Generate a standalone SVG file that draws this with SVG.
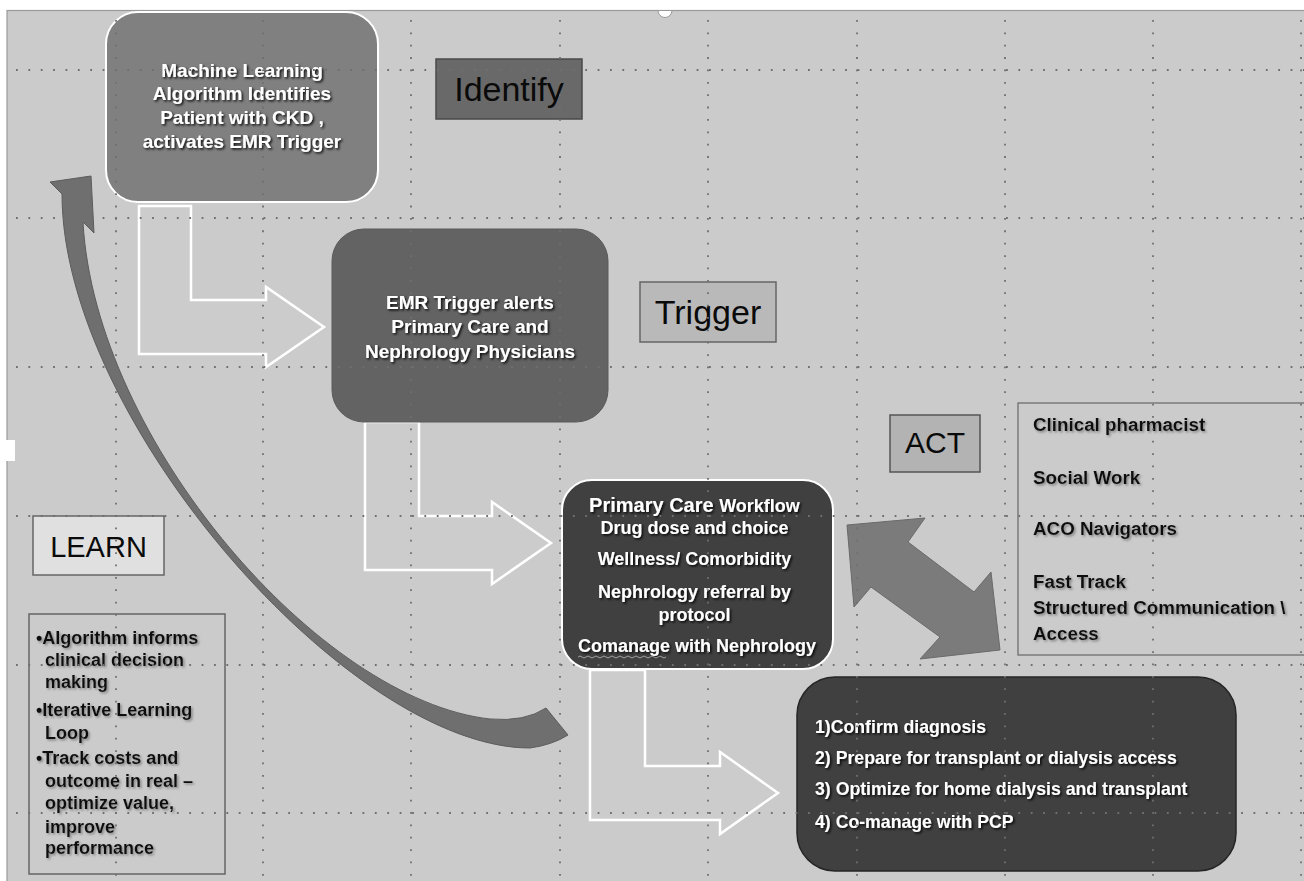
<svg xmlns="http://www.w3.org/2000/svg" width="1304" height="881" viewBox="0 0 1304 881">
<defs>
<style>
.wt{font-family:"Liberation Sans",Arial,sans-serif;font-weight:bold;fill:#ffffff;filter:url(#sd)}
.bt{font-family:"Liberation Sans",Arial,sans-serif;font-weight:bold;fill:#111111;filter:url(#sl)}
.lbl{font-family:"Liberation Sans",Arial,sans-serif;fill:#0a0a0a;text-anchor:middle}
.grid line{stroke:#6f6f6f;stroke-width:1.8;stroke-dasharray:1.8 10.575}
.flow{fill:#cccccc;stroke:#ffffff;stroke-width:2.5;stroke-linejoin:miter}
</style>
<filter id="sd" x="-10%" y="-30%" width="120%" height="160%">
<feDropShadow dx="1.5" dy="1.5" stdDeviation="0.8" flood-color="#000000" flood-opacity="0.9"/>
</filter>
<filter id="sl" x="-10%" y="-30%" width="120%" height="160%">
<feDropShadow dx="1.5" dy="1.5" stdDeviation="0.9" flood-color="#7a7a7a" flood-opacity="0.9"/>
</filter>
<clipPath id="bgclip"><rect x="7" y="11" width="1297" height="870"/></clipPath>
</defs>

<rect x="0" y="0" width="1304" height="881" fill="#ffffff"/>
<rect id="background" x="7" y="10.5" width="1300" height="875" fill="#cbcbcb" stroke="#9a9a9a" stroke-width="1.2"/>
<path d="M658,10.5 A7,7 0 0 0 672,10.5 Z" fill="#ffffff" stroke="#9a9a9a" stroke-width="1"/>
<rect x="0" y="440" width="15" height="21" fill="#ffffff"/>

<g id="connectors">
<polygon class="flow" points="139,206 191,206 191,300 266,300 266,287 324,327 266,367 266,354 139,354"/>
<polygon class="flow" points="365,422 419,422 419,516 492,516 492,502 551,543 492,584 492,570 365,570"/>
<polygon class="flow" points="590,670 645,670 645,766 720,766 720,752 778,793 720,834 720,820 590,820"/>
<path id="learn-loop" d="M91,176 L50,182 L62,194 C62,420 350,748 530,748 Q552,745 568,735 L546,708 Q525,722 490,719 C320,700 95,440 83,222 L94,233 Z" fill="#6f6f6f" stroke="#5c5c5c" stroke-width="1"/>
<polygon id="act-double-arrow" points="847,525 925,518 908,542 974,592 991,572 1000,650 920,659 940,637 871,587 854,607" fill="#7b7b7b" stroke="#6a6a6a" stroke-width="1"/>
</g>

<g id="node-ml">
<rect x="106" y="12" width="272" height="190" rx="32" fill="#808080" stroke="#ffffff" stroke-width="2"/>
<text class="wt" font-size="19" text-anchor="middle"><tspan x="242" y="77">Machine Learning</tspan><tspan x="242" y="100">Algorithm Identifies</tspan><tspan x="242" y="124">Patient with CKD ,</tspan><tspan x="242" y="148">activates EMR Trigger</tspan></text>
</g>

<g id="label-identify">
<rect x="436" y="59" width="146" height="60" fill="#696969" stroke="#4a4a4a" stroke-width="1.5"/>
<text class="lbl" x="509" y="101" font-size="34">Identify</text>
</g>

<g id="node-emr">
<rect x="332" y="229" width="276" height="193" rx="32" fill="#636363" stroke="#5a5a5a" stroke-width="1"/>
<text class="wt" font-size="19" text-anchor="middle"><tspan x="470" y="309">EMR Trigger alerts</tspan><tspan x="470" y="333">Primary Care and</tspan><tspan x="470" y="358">Nephrology Physicians</tspan></text>
</g>

<g id="label-trigger">
<rect x="640" y="282" width="136" height="60" fill="#b9b9b9" stroke="#666666" stroke-width="1.5"/>
<text class="lbl" x="708" y="324" font-size="34">Trigger</text>
</g>

<g id="node-primary">
<rect x="562" y="480" width="271" height="189" rx="30" fill="#404040" stroke="#ffffff" stroke-width="2"/>
<text class="wt" font-size="18" text-anchor="middle">
<tspan x="697" y="512"><tspan font-size="20">Primary Care </tspan>Workflow</tspan>
<tspan x="697" y="534">Drug dose and choice</tspan>
<tspan x="697" y="565">Wellness/ Comorbidity</tspan>
<tspan x="697" y="598">Nephrology referral by</tspan>
<tspan x="697" y="621">protocol</tspan>
<tspan x="697" y="652">Comanage with Nephrology</tspan>
</text>
<path d="M578,657 q2,-2 4,0 t4,0 t4,0 t4,0 t4,0 t4,0 t4,0 t4,0 t4,0 t4,0 t4,0 t4,0 t4,0 t4,0 t4,0 t4,0 t4,0 t4,0 t4,0 t4,0 t4,0 t4,0" fill="none" stroke="#a0a0a0" stroke-width="1"/>
</g>

<g id="label-act">
<rect x="890" y="415" width="90" height="57" fill="#b3b3b3" stroke="#555555" stroke-width="1.5"/>
<text class="lbl" x="935" y="453" font-size="30">ACT</text>
</g>

<g id="node-team">
<rect x="1018" y="403" width="300" height="252" fill="none" stroke="#6e6e6e" stroke-width="1.3"/>
<text class="bt" font-size="18.8"><tspan x="1033" y="431">Clinical pharmacist</tspan><tspan x="1033" y="484">Social Work</tspan><tspan x="1033" y="535">ACO Navigators</tspan><tspan x="1033" y="588">Fast Track</tspan><tspan x="1033" y="614">Structured Communication \</tspan><tspan x="1033" y="640">Access</tspan></text>
</g>

<g id="label-learn">
<rect x="33" y="516" width="131" height="59" fill="#e0e0e0" stroke="#666666" stroke-width="1.5"/>
<text class="lbl" x="98.5" y="557" font-size="29">LEARN</text>
</g>

<g id="node-learn-notes">
<rect x="29" y="614" width="196" height="260" fill="none" stroke="#666666" stroke-width="1.5"/>
<text class="bt" font-size="18"><tspan x="36" y="644">•Algorithm informs</tspan><tspan x="45" y="666">clinical decision</tspan><tspan x="45" y="688">making</tspan><tspan x="36" y="716">•Iterative Learning</tspan><tspan x="45" y="739">Loop</tspan><tspan x="36" y="764">•Track costs and</tspan><tspan x="45" y="787">outcome in real –</tspan><tspan x="45" y="809">optimize value,</tspan><tspan x="45" y="833">improve</tspan><tspan x="45" y="854">performance</tspan></text>
</g>

<g id="node-nephrology">
<rect x="797" y="677" width="439" height="194" rx="38" fill="#404040" stroke="#262626" stroke-width="1.5"/>
<text class="wt" font-size="17.7"><tspan x="815" y="733">1)Confirm diagnosis</tspan><tspan x="815" y="764">2) Prepare for transplant or dialysis access</tspan><tspan x="815" y="795">3) Optimize for home dialysis and transplant</tspan><tspan x="815" y="828">4) Co-manage with PCP</tspan></text>
</g>

<g class="grid" clip-path="url(#bgclip)">
<line x1="116" y1="20" x2="116" y2="881"/>
<line x1="263" y1="20" x2="263" y2="881"/>
<line x1="411" y1="20" x2="411" y2="881"/>
<line x1="560" y1="20" x2="560" y2="881"/>
<line x1="708" y1="20" x2="708" y2="881"/>
<line x1="857" y1="20" x2="857" y2="881"/>
<line x1="1005" y1="20" x2="1005" y2="881"/>
<line x1="1153" y1="20" x2="1153" y2="881"/>
<line x1="1301" y1="20" x2="1301" y2="881"/>
<line x1="16" y1="70" x2="1304" y2="70"/>
<line x1="16" y1="218" x2="1304" y2="218"/>
<line x1="16" y1="367" x2="1304" y2="367"/>
<line x1="16" y1="516" x2="1304" y2="516"/>
<line x1="16" y1="665" x2="1304" y2="665"/>
<line x1="16" y1="813" x2="1304" y2="813"/>
</g>
</svg>
